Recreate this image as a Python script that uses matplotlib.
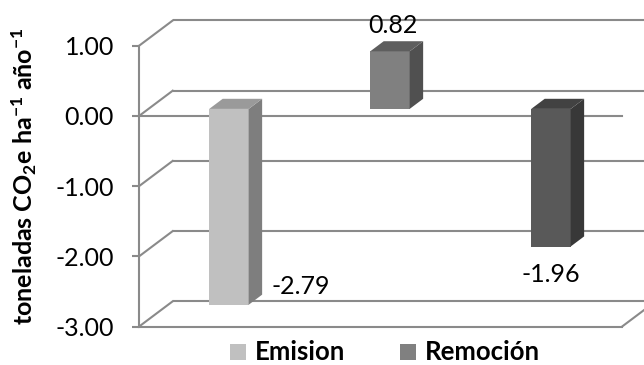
import matplotlib
matplotlib.use("Agg")
import matplotlib.pyplot as plt
from matplotlib.patches import Polygon, Rectangle

# ---- data -------------------------------------------------------------
values = [-2.79, 0.82, -1.96]
series_names = ["Emision", "Remoción"]
y_ticks = [-3.0, -2.0, -1.0, 0.0, 1.0]

# ---- styling ------------------------------------------------------------
front_colors = ["#C0C0C0", "#808080", "#595959"]
side_colors = ["#7E7E7E", "#505050", "#383838"]
top_colors = ["#9A9A9A", "#5E5E5E", "#424242"]
legend_colors = ["#C0C0C0", "#808080"]
grid_color = "#8A8A8A"
label_offsets_px = [(72, 18), (3, 26), (0, -28)]

plt.rcParams["font.family"] = ["Lato", "DejaVu Sans"]
plt.rcParams["mathtext.fontset"] = "custom"
plt.rcParams["mathtext.rm"] = "Lato:bold"
plt.rcParams["mathtext.it"] = "Lato:bold"
plt.rcParams["mathtext.bf"] = "Lato:bold"
plt.rcParams["mathtext.default"] = "rm"

NUM_FS = 18
W, H = 644, 365
fig = plt.figure(figsize=(W / 100, H / 100), dpi=100)
ax = fig.add_axes([0, 0, 1, 1])
ax.axis("off")

# one category = 161 px, one value unit = 70.2 px; front wall at x=-0.5, y=0 at 116 px
CAT_PX, VAL_PX = 161.0, 70.2
X0_PX, Y0_PX = 139.0, 116.0
ax.set_xlim(-0.5 - X0_PX / CAT_PX, -0.5 + (W - X0_PX) / CAT_PX)
ax.set_ylim(-(H - Y0_PX) / VAL_PX, Y0_PX / VAL_PX)

# depth vector of the 3-D box (front plane -> back wall)
DX, DY = 33.7 / CAT_PX, 25.3 / VAL_PX
n = len(values)
x_left, x_right = -0.5, n - 0.5
ymin, ymax = min(y_ticks), max(y_ticks)
lw = 1.5

# back wall gridlines and side-wall diagonals
for v in y_ticks:
    ax.plot([x_left + DX, x_right + DX + 1], [v + DY, v + DY], color=grid_color, lw=lw,
            zorder=1, solid_capstyle="butt")
    ax.plot([x_left, x_left + DX], [v, v + DY], color=grid_color, lw=lw, zorder=1)
    # tick mark on the front vertical axis
    ax.plot([x_left - 7 / CAT_PX, x_left], [v, v], color=grid_color, lw=lw, zorder=2,
            solid_capstyle="butt")
    ax.text(x_left - 25 / CAT_PX, v - 2 / VAL_PX, f"{v:.2f}", ha="right", va="center",
            fontsize=NUM_FS, color="black")

# front vertical axis, floor front edge, floor right diagonal, zero line
ax.plot([x_left, x_left], [ymin, ymax], color=grid_color, lw=lw, zorder=2)
ax.plot([x_left, x_right], [ymin, ymin], color=grid_color, lw=lw, zorder=2)
ax.plot([x_right, x_right + DX], [ymin, ymin + DY], color=grid_color, lw=lw, zorder=2)
ax.plot([x_left, x_right], [0, 0], color=grid_color, lw=lw, zorder=2)

# 3-D columns
bar_w = 0.245
f1, f2 = 0.28, 0.68
ox, oy = f1 * DX, f1 * DY
ddx, ddy = (f2 - f1) * DX, (f2 - f1) * DY
for i, v in enumerate(values):
    xl = i - bar_w / 2 + ox
    xr = i + bar_w / 2 + ox
    lo, hi = min(0, v) + oy, max(0, v) + oy
    front = Polygon([(xl, lo), (xr, lo), (xr, hi), (xl, hi)], closed=True,
                    facecolor=front_colors[i], edgecolor="none", zorder=5)
    side = Polygon([(xr, lo), (xr + ddx, lo + ddy), (xr + ddx, hi + ddy), (xr, hi)],
                   closed=True, facecolor=side_colors[i], edgecolor="none", zorder=5)
    top = Polygon([(xl, hi), (xr, hi), (xr + ddx, hi + ddy), (xl + ddx, hi + ddy)],
                  closed=True, facecolor=top_colors[i], edgecolor="none", zorder=5)
    for p in (front, side, top):
        ax.add_patch(p)
    anchor_y = v + oy
    ax.annotate(f"{v:.2f}", xy=(i + ox, anchor_y), xytext=label_offsets_px[i],
                textcoords="offset pixels", ha="center", va="center",
                fontsize=NUM_FS, color="black", zorder=6)

# y-axis title
fig.text(24 / W, 1 - 176 / H, r"toneladas CO$_2$e ha$^{-1}$ año$^{-1}$",
         rotation=90, ha="center", va="center", fontsize=18, fontweight="bold")

# legend
legend_x = [230, 400]
for name, col, lx in zip(series_names, legend_colors, legend_x):
    fig.patches.append(Rectangle((lx / W, 1 - 360 / H), 16 / W, 16 / H,
                                 transform=fig.transFigure, facecolor=col,
                                 edgecolor="none"))
    fig.text((lx + 25) / W, 1 - 360 / H, name, ha="left", va="baseline",
             fontsize=18.5, fontweight="bold")

fig.savefig("out.png", dpi=100)
